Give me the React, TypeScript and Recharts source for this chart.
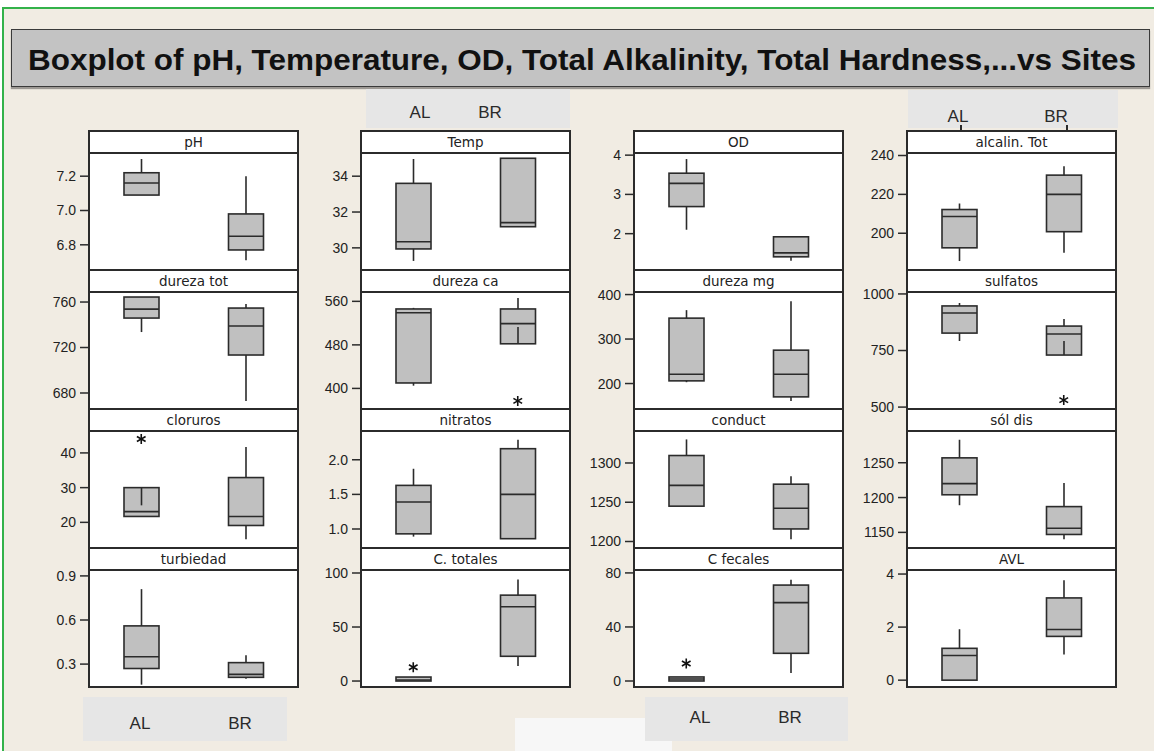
import * as React from "react";
import { ComposedChart, Bar, Scatter, XAxis, YAxis } from "recharts";

const SITES = ["AL", "BR"];

const VARIABLES = [
  "pH", "Temp", "OD", "alcalin. Tot",
  "dureza tot", "dureza ca", "dureza mg", "sulfatos",
  "cloruros", "nitratos", "conduct", "sól dis",
  "turbiedad", "C. totales", "C fecales", "AVL",
];

const TICKS = [
  [6.8, 7.0, 7.2], [30, 32, 34], [2, 3, 4], [200, 220, 240],
  [680, 720, 760], [400, 480, 560], [200, 300, 400], [500, 750, 1000],
  [20, 30, 40], [1.0, 1.5, 2.0], [1200, 1250, 1300], [1150, 1200, 1250],
  [0.3, 0.6, 0.9], [0, 50, 100], [0, 40, 80], [0, 2, 4],
];

const DECIMALS = [1, 0, 0, 0, 0, 0, 0, 0, 0, 1, 0, 0, 1, 0, 0, 0];

// axis ranges
const Y_RANGES = [
  [6.659, 7.341], [28.82, 35.35], [1.1, 4.08], [181.6, 241.8],
  [666.8, 769.7], [364, 579], [145, 408], [496, 1013],
  [12.9, 46.6], [0.74, 2.43], [1193, 1342], [1129, 1297],
  [0.151, 0.947], [-4.6, 103.7], [-3.7, 82.9], [-0.22, 4.19],
];

// [low whisker, Q1, median, Q3, high whisker]
const AL_STATS = [
  [7.09, 7.09, 7.16, 7.22, 7.3],
  [29.27, 29.94, 30.34, 33.6, 34.96],
  [2.1, 2.69, 3.28, 3.54, 3.9],
  [185.7, 192.5, 208.6, 212.2, 215.3],
  [733.6, 745.9, 753.8, 764.4, 764.4],
  [405, 410, 539, 546, 548],
  [203, 206, 221, 347, 365],
  [792, 827, 916, 947, 960],
  [21.7, 21.7, 23.1, 30, 24.9],
  [0.89, 0.93, 1.39, 1.63, 1.87],
  [1245, 1245, 1271.5, 1309.5, 1330],
  [1189, 1204, 1220, 1257, 1283],
  [0.16, 0.27, 0.35, 0.56, 0.81],
  [0, 0, 1, 3.7, 3.7],
  [0, 0, 1.5, 3, 3],
  [0, 0, 0.93, 1.2, 1.92],
];

const BR_STATS = [
  [6.71, 6.77, 6.85, 6.98, 7.2],
  [31.18, 31.18, 31.41, 35.0, 35.0],
  [1.31, 1.41, 1.51, 1.92, 1.92],
  [189.9, 200.8, 220, 229.9, 234.5],
  [673, 713.4, 738.9, 754.7, 758.2],
  [513, 482, 519, 546, 566],
  [161, 170, 221, 275, 385],
  [792, 730, 823, 858, 889],
  [15.1, 19.1, 21.7, 32.9, 41.7],
  [0.86, 0.86, 1.5, 2.16, 2.29],
  [1203, 1216, 1242.4, 1273, 1283],
  [1140, 1147, 1156, 1187, 1221],
  [0.2, 0.21, 0.23, 0.31, 0.36],
  [13.8, 22.9, 68.8, 79.5, 94],
  [6, 20.5, 58, 71, 75],
  [0.97, 1.65, 1.91, 3.1, 3.77],
];

// outliers (null = none)
const AL_OUTLIERS = [null, null, null, null, null, null, null, null, 44, null, null, null, null, 12.8, 13, null];
const BR_OUTLIERS = [null, null, null, null, null, 377, null, 531, null, null, null, null, null, null, null, null];

const COL_LEFT = [89, 361, 634, 907];
const PLOT_W = 209;
const AXIS_W = 60;
const ROW_TOP0 = 130;
const ROW_STEP = 139;
const STRIP_H = 22;
const PLOT_H = 117;
const PAD = 12;
const LINE = "#2b2b2b";

function BoxShape(props: any) {
  const { x, width, payload } = props;
  let { y, height } = props;
  if (height < 0) {
    y = y + height;
    height = -height;
  }
  const s: number[] = payload.s;
  const hi = Math.max(...s);
  const lo = Math.min(...s);
  const k = hi === lo ? 0 : height / (hi - lo);
  const py = (v: number) => y + (hi - v) * k;
  const cx = x + width / 2;
  return (
    <g>
      <rect
        x={x}
        y={py(s[3])}
        width={width}
        height={Math.max(py(s[1]) - py(s[3]), 0.5)}
        fill="#c0c0c0"
        stroke={LINE}
        strokeWidth={1.6}
      />
      <line x1={cx} x2={cx} y1={py(s[3])} y2={py(s[4])} stroke={LINE} strokeWidth={1.6} />
      <line x1={cx} x2={cx} y1={py(s[1])} y2={py(s[0])} stroke={LINE} strokeWidth={1.6} />
      <line x1={x} x2={x + width} y1={py(s[2])} y2={py(s[2])} stroke={LINE} strokeWidth={1.6} />
    </g>
  );
}

function StarShape(props: any) {
  const { cx, cy, payload } = props;
  if (payload == null || payload.out == null || cx == null || cy == null) return null;
  const r = 5;
  const dx = r * Math.cos(Math.PI / 6);
  const dy = r * Math.sin(Math.PI / 6);
  return (
    <g stroke="#111" strokeWidth={1.6}>
      <line x1={cx} x2={cx} y1={cy - r} y2={cy + r} />
      <line x1={cx - dx} x2={cx + dx} y1={cy - dy} y2={cy + dy} />
      <line x1={cx - dx} x2={cx + dx} y1={cy + dy} y2={cy - dy} />
    </g>
  );
}

function Panel({ i }: { i: number }) {
  const col = i % 4;
  const row = Math.floor(i / 4);
  const left = COL_LEFT[col];
  const top = ROW_TOP0 + row * ROW_STEP;
  const data = SITES.map((site, j) => {
    const s = j === 0 ? AL_STATS[i] : BR_STATS[i];
    const out = j === 0 ? AL_OUTLIERS[i] : BR_OUTLIERS[i];
    return { site, s, out };
  });
  return (
    <>
      <div
        style={{
          position: "absolute",
          left,
          top: top + STRIP_H,
          width: PLOT_W,
          height: PLOT_H,
          background: "#fff",
        }}
      />
      <div
        style={{
          position: "absolute",
          left: left - AXIS_W,
          top: top + STRIP_H - PAD,
        }}
      >
        <ComposedChart
          width={PLOT_W + AXIS_W}
          height={PLOT_H + 2 * PAD}
          data={data}
          margin={{ top: PAD, right: 0, bottom: PAD, left: 0 }}
        >
          <XAxis dataKey="site" type="category" hide />
          <YAxis
            type="number"
            width={AXIS_W}
            domain={Y_RANGES[i]}
            allowDataOverflow
            ticks={TICKS[i]}
            interval={0}
            tickFormatter={(v: number) => v.toFixed(DECIMALS[i])}
            axisLine={false}
            tickSize={9}
            tickMargin={4}
            tickLine={{ stroke: LINE, strokeWidth: 1.5 }}
            tick={{ fill: "#222", fontSize: 14, fontFamily: "Liberation Sans, Arial, sans-serif" }}
          />
          <Bar
            dataKey={(d: any) => [Math.min(...d.s), Math.max(...d.s)]}
            barSize={35}
            shape={BoxShape}
            isAnimationActive={false}
          />
          <Scatter dataKey="out" shape={StarShape} isAnimationActive={false} />
        </ComposedChart>
      </div>
      <div
        style={{
          position: "absolute",
          left: left - 1,
          top,
          width: PLOT_W + 2,
          height: ROW_STEP + 2,
          boxSizing: "border-box",
          border: `2px solid ${LINE}`,
          pointerEvents: "none",
        }}
      />
      <div
        style={{
          position: "absolute",
          left: left + 1,
          top: top + 2,
          width: PLOT_W - 2,
          height: STRIP_H - 2,
          background: "#fff",
          borderBottom: `2px solid ${LINE}`,
          boxSizing: "content-box",
          textAlign: "center",
          lineHeight: `${STRIP_H - 2}px`,
          fontSize: 13.5,
          color: "#222",
          fontFamily: "DejaVu Sans, sans-serif",
        }}
      >
        {VARIABLES[i]}
      </div>
    </>
  );
}

const TAG_BOXES = [
  { left: 366, top: 89, width: 204, height: 39, color: "#e6e6e6", al: 420, br: 490, y: 113 },
  { left: 908, top: 90, width: 210, height: 38, color: "#e6e6e6", al: 958, br: 1056, y: 117 },
  { left: 83, top: 697, width: 204, height: 44, color: "#e6e6e6", al: 140, br: 240, y: 724 },
  { left: 645, top: 697, width: 203, height: 44, color: "#e6e6e6", al: 700, br: 790, y: 718 },
];

export default function App() {
  return (
    <div
      style={{
        position: "relative",
        width: 1154,
        height: 751,
        background: "#fff",
        overflow: "hidden",
        fontFamily: "Liberation Sans, Arial, sans-serif",
      }}
    >
      <style>{`body{margin:0}`}</style>
      <div
        style={{
          position: "absolute",
          left: 2,
          top: 7,
          right: 0,
          bottom: 0,
          background: "#f1ece3",
          borderLeft: "2px solid #33b24a",
          borderTop: "2px solid #33b24a",
        }}
      />
      <div
        style={{
          position: "absolute",
          left: 11,
          top: 29,
          width: 1139,
          height: 58,
          boxSizing: "border-box",
          background: "#c3c3c3",
          border: "1px solid #3a3a3a",
          boxShadow: "0 2px 1px rgba(0,0,0,0.35)",
        }}
      >
        <svg width={1137} height={56} style={{ display: "block" }}>
          <text
            x={16}
            y={40}
            textLength={1108}
            lengthAdjust="spacingAndGlyphs"
            fontSize={29}
            fontWeight="bold"
            fill="#111"
            fontFamily="Liberation Sans, Arial, sans-serif"
          >
            Boxplot of pH, Temperature, OD, Total Alkalinity, Total Hardness,...vs Sites
          </text>
        </svg>
      </div>
      <div
        style={{
          position: "absolute",
          left: 515,
          top: 718,
          width: 157,
          height: 33,
          background: "#f7f7f7",
        }}
      />
      {TAG_BOXES.map((t, k) => (
        <React.Fragment key={k}>
          <div
            style={{
              position: "absolute",
              left: t.left,
              top: t.top,
              width: t.width,
              height: t.height,
              background: t.color,
            }}
          />
          {[t.al, t.br].map((cx, j) => (
            <div
              key={j}
              style={{
                position: "absolute",
                left: cx - 30,
                top: t.y - 11,
                width: 60,
                height: 22,
                lineHeight: "22px",
                textAlign: "center",
                fontSize: 17,
                color: "#2a2a2a",
              }}
            >
              {SITES[j]}
            </div>
          ))}
        </React.Fragment>
      ))}
      {[960, 1066].map((x) => (
        <div
          key={x}
          style={{ position: "absolute", left: x, top: 125, width: 1.5, height: 6, background: LINE }}
        />
      ))}
      {VARIABLES.map((_, i) => (
        <Panel key={i} i={i} />
      ))}
    </div>
  );
}
